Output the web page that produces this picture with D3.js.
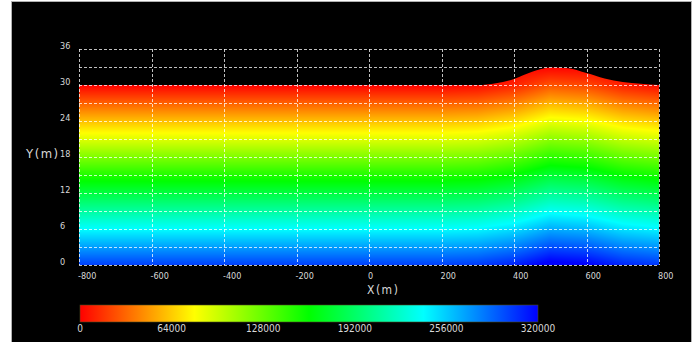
<!DOCTYPE html>
<html>
<style>
  body { margin: 0; background: #ffffff; }
  svg { display: block; }
  text { font-family: "Liberation Sans Narrow", "DejaVu Sans Condensed", sans-serif; fill: #d8d8d8; }
</style>
<script src="https://cdn.jsdelivr.net/npm/d3@7"></script>
<body>
<svg id="chart" width="698" height="342"></svg>
</body>
<script>
// surface profile (x in m, top of the coloured region in m)
let surfX = [-800, 300, 350, 400, 450, 500, 550, 600, 650, 700, 750, 800]
let surfY = [30, 30, 30.3, 31, 32.2, 32.9, 32.8, 32.0, 31.1, 30.5, 30.2, 30.0]

// field values sampled on a coarse grid (columns gridX, rows gridY)
let gridX = [-800, -700, -600, -500, -400, -300, -200, -100, 0, 100, 200, 300, 400, 500, 600, 700, 800]
let gridY = [0, 3, 6, 9, 12, 15, 18, 21, 24, 27, 30, 33]
let flat = [300000, 270000, 240000, 210000, 180000, 150000, 120000, 90000, 60000, 30000, 0, 0]
let bumpCols = [
  [302000, 272000, 242000, 212000, 182000, 152000, 122000, 92000, 62000, 32000, 2000, 0],
  [310000, 280000, 250000, 220000, 190000, 160000, 130000, 100000, 70000, 40000, 10000, 0],
  [326000, 296000, 266000, 236000, 206000, 176000, 146000, 116000, 86000, 56000, 26000, 0],
  [322000, 292000, 262000, 232000, 202000, 172000, 142000, 112000, 82000, 52000, 22000, 0],
  [309000, 279000, 249000, 219000, 189000, 159000, 129000, 99000, 69000, 39000, 9000, 0],
  [303000, 273000, 243000, 213000, 183000, 153000, 123000, 93000, 63000, 33000, 3000, 0]
]

let xTicks = [-800, -600, -400, -200, 0, 200, 400, 600, 800]
let yTicks = [0, 6, 12, 18, 24, 30, 36]
let yGrid = [0, 3, 6, 9, 12, 15, 18, 21, 24, 27, 30, 33, 36]
let colorStops = [0, 80000, 160000, 240000, 320000]
let colorNames = ["#ff0000", "#ffff00", "#00ff00", "#00ffff", "#0000ff"]
let barTicks = [0, 64000, 128000, 192000, 256000, 320000]

// columns: 11 flat ones then the bump ones
let columns = gridX.map((x, i) => i < 11 ? flat : bumpCols[i - 11])

function fieldAt(x, y) {
  let i = Math.max(0, Math.min(gridX.length - 2, d3.bisectRight(gridX, x) - 1))
  let j = Math.max(0, Math.min(gridY.length - 2, d3.bisectRight(gridY, y) - 1))
  let tx = (x - gridX[i]) / (gridX[i + 1] - gridX[i])
  let ty = (y - gridY[j]) / (gridY[j + 1] - gridY[j])
  let a = columns[i][j], b = columns[i + 1][j]
  let c = columns[i][j + 1], d = columns[i + 1][j + 1]
  return (a * (1 - tx) + b * tx) * (1 - ty) + (c * (1 - tx) + d * tx) * ty
}

let svg = d3.select("#chart")
let xScale = d3.scaleLinear().domain([-800, 800]).range([79, 659])
let yScale = d3.scaleLinear().domain([0, 36]).range([265, 49])
let color = d3.scaleLinear().domain(colorStops).range(colorNames).clamp(true)

// panel
svg.append("rect")
  .attr("x", 11.5).attr("y", 1.5).attr("width", 680).attr("height", 345)
  .attr("fill", "#000").attr("stroke", "#b0b0b0")

// field image
let x0 = xScale.range()[0], x1 = xScale.range()[1]
let y0 = yScale.range()[1], y1 = yScale.range()[0]
let w = Math.round(x1 - x0), h = Math.round(y1 - y0)
let canvas = document.createElement("canvas")
canvas.width = w; canvas.height = h
let ctx = canvas.getContext("2d")
let img = ctx.createImageData(w, h)
for (let py = 0; py < h; py++) {
  let yv = yScale.invert(y0 + py + 0.5)
  for (let px = 0; px < w; px++) {
    let xv = xScale.invert(x0 + px + 0.5)
    let c = d3.rgb(color(fieldAt(xv, yv)))
    let k = (py * w + px) * 4
    img.data[k] = c.r; img.data[k + 1] = c.g; img.data[k + 2] = c.b; img.data[k + 3] = 255
  }
}
ctx.putImageData(img, 0, 0)

let area = d3.area()
  .x((d, i) => xScale(surfX[i]))
  .y0(yScale(0))
  .y1((d, i) => yScale(d))
  .curve(d3.curveMonotoneX)
svg.append("clipPath").attr("id", "surf")
  .append("path").attr("d", area(surfY))
svg.append("image")
  .attr("x", x0).attr("y", y0).attr("width", w).attr("height", h)
  .attr("preserveAspectRatio", "none")
  .attr("href", canvas.toDataURL())
  .attr("clip-path", "url(#surf)")

// dashed grid
let grid = svg.append("g")
  .attr("stroke", "rgba(255,255,255,0.75)")
  .attr("stroke-dasharray", "3,2")
  .attr("stroke-width", 1)
grid.selectAll(".hl").data(yGrid).enter().append("line")
  .attr("x1", x0).attr("x2", x1)
  .attr("y1", d => Math.round(yScale(d)) + 0.5).attr("y2", d => Math.round(yScale(d)) + 0.5)
grid.selectAll(".vl").data(xTicks).enter().append("line")
  .attr("y1", y0).attr("y2", y1)
  .attr("x1", d => Math.round(xScale(d)) + 0.5).attr("x2", d => Math.round(xScale(d)) + 0.5)

// tick labels
svg.selectAll(".yt").data(yTicks).enter().append("text")
  .attr("x", 60).attr("y", d => yScale(d) - 0.5)
  .attr("font-size", 9).text(d => d)
svg.selectAll(".xt").data(xTicks).enter().append("text")
  .attr("x", d => xScale(d) - 1).attr("y", 279)
  .attr("font-size", 9).text(d => d)

svg.append("text").attr("x", 26).attr("y", 158)
  .attr("font-size", 13).attr("letter-spacing", 1.5).text("Y(m)")
svg.append("text").attr("x", 367).attr("y", 294)
  .attr("font-size", 12).attr("letter-spacing", 1.5).text("X(m)")

// colour bar
let bScale = d3.scaleLinear().domain([0, 320000]).range([80, 538])
let grad = svg.append("defs").append("linearGradient").attr("id", "bar")
grad.selectAll("stop").data(colorStops).enter().append("stop")
  .attr("offset", d => d / 320000)
  .attr("stop-color", (d, i) => colorNames[i])
svg.append("rect")
  .attr("x", bScale(0)).attr("y", 305)
  .attr("width", bScale(320000) - bScale(0)).attr("height", 17)
  .attr("fill", "url(#bar)").attr("stroke", "#4a4a20").attr("stroke-width", 0.6)
svg.selectAll(".bt").data(barTicks).enter().append("text")
  .attr("x", d => bScale(d)).attr("y", 332)
  .attr("text-anchor", "middle").attr("font-size", 10).text(d => d)
</script>
</html>
